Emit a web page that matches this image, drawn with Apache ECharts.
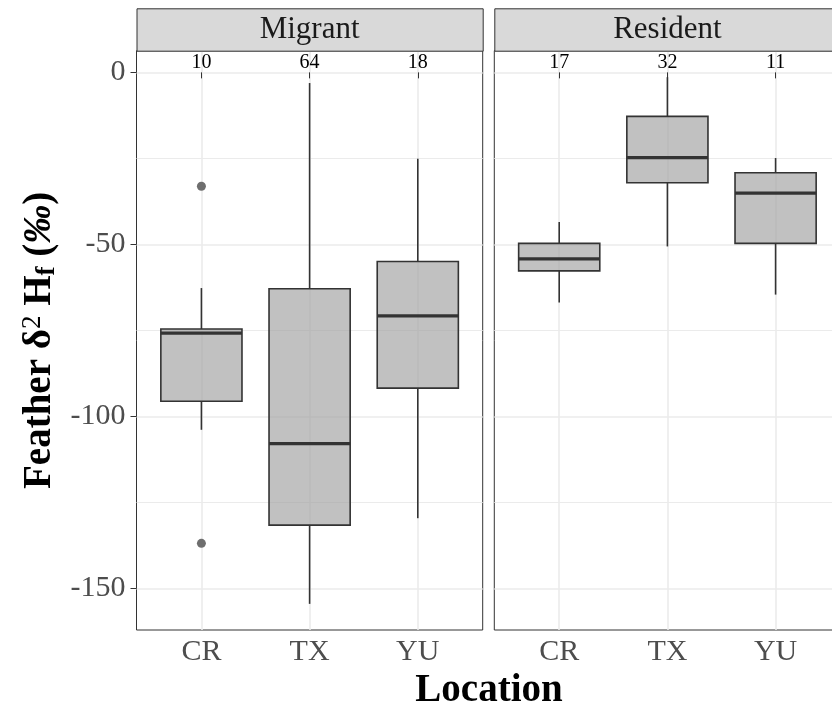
<!DOCTYPE html>
<html>
<head>
<meta charset="utf-8">
<script src="https://cdn.jsdelivr.net/npm/echarts@6/dist/echarts.min.js"></script>
<style>html,body{margin:0;padding:0;background:#fff}#c{width:832px;height:702px}</style>
</head>
<body>
<div id="c"></div>
<script>
var categories = ['CR', 'TX', 'YU'];
var panels = ['Migrant', 'Resident'];
// [lower whisker, Q1, median, Q3, upper whisker]
var migrantStats = [
  [-103.9, -95.6, -75.8, -74.6, -62.7],
  [-154.5, -131.6, -107.9, -62.9, -3.1],
  [-129.6, -91.8, -70.8, -55.0, -25.1]
];
var residentStats = [
  [-66.9, -57.7, -54.2, -49.7, -43.5],
  [-50.6, -32.1, -24.8, -12.8, -1.4],
  [-64.6, -49.7, -35.1, -29.2, -24.9]
];
var migrantOutliers = [['CR', -33.1], ['CR', -136.9]];
var residentOutliers = [];
var migrantCounts = [10, 64, 18];
var residentCounts = [17, 32, 11];
var yTicks = [-150, -100, -50, 0];
var yMinor = [-125, -75, -25];
var countLabelY = 2.8;

var FONT = '"Liberation Serif", "DejaVu Serif", serif';
var chart = echarts.init(document.getElementById('c'), null, {renderer: 'canvas'});

var gridLeft = [136.5, 494.3];
var gridTop = 50.7, gridH = 579.3, gridW = 346.2;

function boxData(stats) {
  return stats.map(function (s, i) { return [i + 1].concat(s); });
}
function renderBox(params, api) {
  var x = api.value(0);
  var lo = api.value(1), q1 = api.value(2), med = api.value(3), q3 = api.value(4), hi = api.value(5);
  var half = 0.375;
  var pL = api.coord([x - half, q3]);
  var pR = api.coord([x + half, q1]);
  var pc = api.coord([x, 0]);
  var yLo = api.coord([x, lo])[1], yHi = api.coord([x, hi])[1];
  var yQ1 = api.coord([x, q1])[1], yQ3 = api.coord([x, q3])[1], yMed = api.coord([x, med])[1];
  var lineStyle = {stroke: '#333333', lineWidth: 1.6};
  return {
    type: 'group',
    children: [
      {type: 'line', shape: {x1: pc[0], y1: yLo, x2: pc[0], y2: yQ1}, style: lineStyle},
      {type: 'line', shape: {x1: pc[0], y1: yQ3, x2: pc[0], y2: yHi}, style: lineStyle},
      {type: 'rect', shape: {x: pL[0], y: yQ3, width: pR[0] - pL[0], height: yQ1 - yQ3},
        style: {fill: 'rgba(160,160,160,0.65)', stroke: '#333333', lineWidth: 1.6}},
      {type: 'line', shape: {x1: pL[0], y1: yMed, x2: pR[0], y2: yMed}, style: {stroke: '#333333', lineWidth: 3.2}}
    ]
  };
}
function renderCount(params, api) {
  var p = api.coord([api.value(0), api.value(1)]);
  return {type: 'text', x: p[0], y: p[1], style: {text: String(api.value(2)), fill: '#000', font: '20px ' + FONT, align: 'center', verticalAlign: 'middle'}};
}

var grids = [], xAxes = [], yAxes = [], series = [];
[0, 1].forEach(function (k) {
  grids.push({left: gridLeft[k], top: gridTop, width: gridW, height: gridH, show: true, borderColor: '#333333', borderWidth: 1, backgroundColor: '#fff', containLabel: false, outerBoundsMode: 'none'});
  xAxes.push({
    type: 'value', gridIndex: k, min: 0.4, max: 3.6,
    axisLine: {show: false},
    axisTick: {show: true, customValues: [1, 2, 3], length: 6, lineStyle: {color: '#333333', width: 1}},
    axisLabel: {customValues: [1, 2, 3], formatter: function (v) { return categories[Math.round(v) - 1]; }, color: '#4d4d4d', fontFamily: FONT, fontSize: 30, margin: 7},
    splitLine: {show: true, lineStyle: {color: '#ebebeb', width: 1.6}},
    name: k === 0 ? 'Location' : '', nameLocation: 'middle', nameGap: 36,
    nameTextStyle: {fontFamily: FONT, fontSize: 39, fontWeight: 'bold', color: '#000', padding: [0, 0, 0, 358.8]}
  });
  yAxes.push({
    type: 'value', gridIndex: k, min: -162.1, max: 6.3,
    axisLine: {show: false},
    axisTick: {show: k === 0, customValues: yTicks, length: 6, lineStyle: {color: '#333333', width: 1}},
    axisLabel: {show: k === 0, customValues: yTicks, color: '#4d4d4d', fontFamily: FONT, fontSize: 30, margin: 11},
    splitLine: {show: true, lineStyle: {color: '#ebebeb', width: 1.6}},
    name: k === 0 ? '{b|Feather δ}{sup|2}{b| H}{sub|f}{b| (}{i|‰}{b|)}' : '',
    nameLocation: 'middle', nameGap: 76, nameRotate: 90,
    nameTextStyle: {
      rich: {
        b: {fontFamily: FONT, fontSize: 39, fontWeight: 'bold', color: '#000'},
        i: {fontFamily: FONT, fontSize: 39, fontWeight: 'bold', fontStyle: 'italic', color: '#000'},
        sup: {fontFamily: FONT, fontSize: 27, fontWeight: 'normal', color: '#000', verticalAlign: 'top', padding: [0, 0, 14, 0]},
        sub: {fontFamily: FONT, fontSize: 27, fontWeight: 'bold', color: '#000', verticalAlign: 'bottom', padding: [10, 0, 0, 0]}
      }
    }
  });
  // minor gridlines axis
  yAxes.push({
    type: 'value', gridIndex: k, min: -162.1, max: 6.3, position: 'left',
    axisLine: {show: false}, axisLabel: {show: false},
    axisTick: {show: false, customValues: yMinor},
    splitLine: {show: true, lineStyle: {color: '#ebebeb', width: 1}}
  });
});

var statsList = [migrantStats, residentStats];
var outList = [migrantOutliers, residentOutliers];
var countList = [migrantCounts, residentCounts];
[0, 1].forEach(function (k) {
  series.push({
    type: 'custom', xAxisIndex: k, yAxisIndex: 2 * k, renderItem: renderBox,
    data: boxData(statsList[k]), encode: {x: 0, y: [1, 2, 3, 4, 5]}, z: 3, silent: true
  });
  series.push({
    type: 'scatter', xAxisIndex: k, yAxisIndex: 2 * k, symbolSize: 9,
    itemStyle: {color: '#666666', opacity: 0.95},
    data: outList[k].map(function (d) { return [categories.indexOf(d[0]) + 1, d[1]]; }), z: 4, silent: true
  });
  series.push({
    type: 'custom', xAxisIndex: k, yAxisIndex: 2 * k, renderItem: renderCount,
    data: countList[k].map(function (c, i) { return [i + 1, countLabelY, c]; }), encode: {x: 0, y: 1}, z: 5, silent: true, clip: false
  });
});

var graphics = [];
[0, 1].forEach(function (k) {
  graphics.push({type: 'rect', left: gridLeft[k], top: 8.3, shape: {x: 0, y: 0, width: gridW, height: 42.4},
    style: {fill: '#d9d9d9', stroke: '#333333', lineWidth: 1}, z: 10});
  graphics.push({type: 'text', x: gridLeft[k] + gridW / 2, y: 29.5,
    style: {text: panels[k], font: '31px ' + FONT, fill: '#1a1a1a', align: 'center', verticalAlign: 'middle'}, z: 11});
});

chart.setOption({
  animation: false,
  backgroundColor: '#fff',
  grid: grids, xAxis: xAxes, yAxis: yAxes, series: series,
  graphic: graphics
});
</script>
</body>
</html>
